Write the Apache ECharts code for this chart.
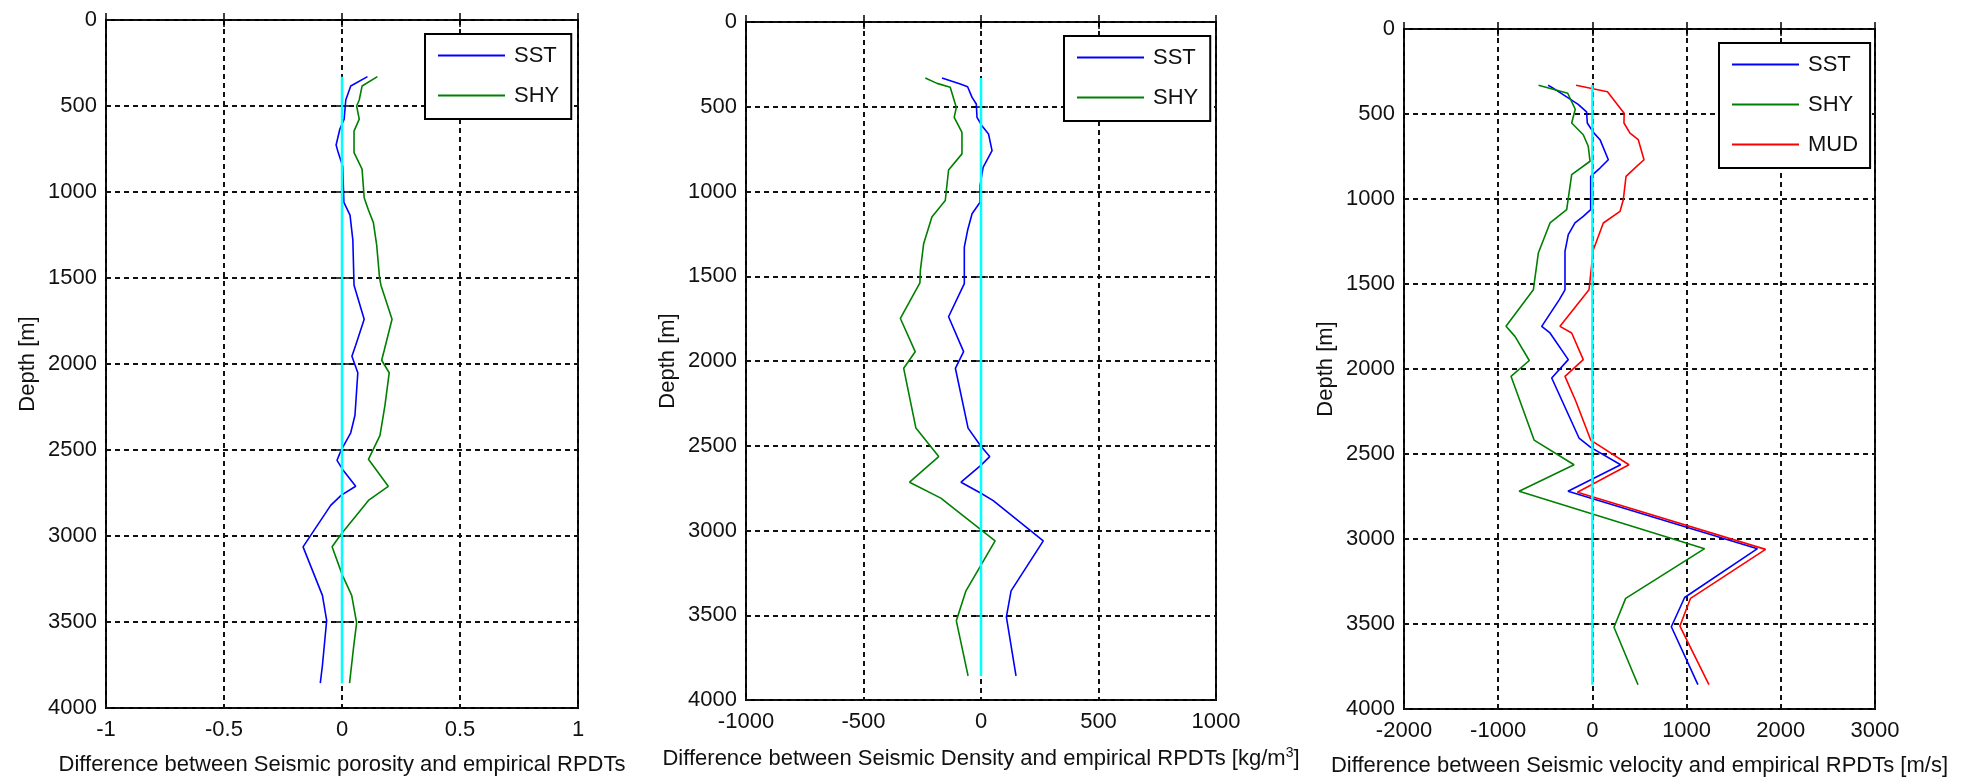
<!DOCTYPE html>
<html>
<head>
<meta charset="utf-8">
<script src="https://cdn.jsdelivr.net/npm/echarts@6/dist/echarts.min.js"></script>
<style>
  html, body { margin: 0; padding: 0; background: #fff; }
  #chart { width: 1968px; height: 784px; }
</style>
</head>
<body>
<div id="chart"></div>
<script>
// ---- Porosity difference ----
const porSSTDepth = [329, 384, 465, 576, 634, 727, 771, 850, 1060, 1134, 1280, 1542, 1740, 1891, 1955, 2051, 2298, 2400, 2502, 2560, 2618, 2711, 2764, 2822, 3063, 3345, 3491, 3753, 3855];
const porSSTValue = [0.108, 0.037, 0.016, 0.009, -0.009, -0.025, -0.016, 0.003, 0.008, 0.034, 0.046, 0.051, 0.094, 0.058, 0.042, 0.067, 0.055, 0.037, -0.004, -0.021, 0.005, 0.058, -0.004, -0.048, -0.165, -0.083, -0.065, -0.083, -0.092];
const porSHYDepth = [329, 384, 465, 500, 576, 646, 771, 867, 1033, 1105, 1178, 1309, 1498, 1542, 1740, 1920, 1978, 2051, 2240, 2415, 2554, 2711, 2793, 2990, 3063, 3229, 3345, 3505, 3636, 3855];
const porSHYValue = [0.150, 0.085, 0.073, 0.062, 0.073, 0.051, 0.051, 0.085, 0.094, 0.112, 0.133, 0.147, 0.159, 0.165, 0.212, 0.179, 0.168, 0.200, 0.182, 0.161, 0.112, 0.196, 0.112, -0.004, -0.042, 0.002, 0.041, 0.062, 0.050, 0.032];

// ---- Density difference [kg/m3] ----
const denSSTDepth = [331, 366, 382, 445, 484, 563, 612, 661, 759, 857, 965, 1063, 1131, 1229, 1328, 1543, 1739, 1945, 2043, 2396, 2500, 2564, 2617, 2715, 2780, 2824, 3061, 3356, 3510, 3858];
const denSSTValue = [-166, -88, -57, -38, -20, -17, 4, 32, 47, 9, -4, -4, -38, -57, -71, -71, -138, -74, -109, -55, -2, 37, -2, -85, 0, 52, 265, 128, 108, 149];
const denSHYDepth = [331, 362, 385, 504, 563, 651, 778, 873, 1053, 1151, 1308, 1465, 1539, 1749, 1945, 2043, 2396, 2564, 2715, 2809, 3061, 3356, 3533, 3858];
const denSHYValue = [-237, -187, -131, -105, -114, -81, -81, -138, -152, -209, -244, -258, -260, -343, -280, -329, -277, -180, -304, -171, 60, -64, -105, -55];

// ---- Velocity difference [m/s] ----
const velSSTDepth = [331, 348, 443, 487, 553, 608, 651, 769, 818, 867, 1063, 1102, 1141, 1210, 1308, 1534, 1592, 1749, 1788, 1945, 2053, 2406, 2461, 2563, 2719, 3057, 3344, 3516, 3857];
const velSSTValue = [-470, -417, -151, -62, -54, 10, 81, 169, 81, -18, -18, -97, -185, -256, -291, -291, -351, -538, -450, -256, -432, -142, -18, 300, -259, 1752, 979, 838, 1120];
const velSHYDepth = [331, 378, 472, 553, 622, 690, 778, 857, 1063, 1141, 1318, 1534, 1749, 1808, 1950, 2043, 2418, 2563, 2719, 3057, 3349, 3519, 3857];
const velSHYValue = [-572, -262, -182, -220, -97, -44, -25, -220, -273, -450, -574, -627, -917, -822, -670, -864, -619, -195, -778, 1191, 353, 229, 484];
const velMUDDepth = [331, 369, 496, 553, 612, 651, 769, 808, 867, 1004, 1073, 1141, 1298, 1534, 1749, 1788, 1945, 2043, 2188, 2418, 2563, 2725, 3061, 3349, 3512, 3857];
const velMUDValue = [-173, 160, 337, 335, 399, 487, 548, 470, 357, 328, 293, 116, 10, -36, -344, -220, -97, -291, -177, -18, 388, -159, 1838, 1042, 929, 1237];

// zero reference line over the logged interval
const zeroDepth = [330, 3858];
const zeroValue = [0, 0];

// axis ranges and ticks
const depthTicks = { min: 0, max: 4000, interval: 500 };
const porTicks = { min: -1, max: 1, interval: 0.5 };
const denTicks = { min: -1000, max: 1000, interval: 500 };
const velTicks = { min: -2000, max: 3000, interval: 1000 };

const xTitles = [
  'Difference between Seismic porosity and empirical RPDTs',
  'Difference between Seismic Density and empirical RPDTs [kg/m{sup|3}]',
  'Difference between Seismic velocity and empirical RPDTs [m/s]'
];
const depthTitle = 'Depth [m]';

const FONT = '"Liberation Sans", Arial, sans-serif';
const FS = 22;
const COLORS = { SST: '#0000ff', SHY: '#008000', MUD: '#ff0000', zero: '#00ffff' };

const grids = [
  { left: 106, top: 20, width: 472, height: 688 },
  { left: 746, top: 22, width: 470, height: 678 },
  { left: 1404, top: 29, width: 471, height: 680 }
];
const xRanges = [porTicks, denTicks, velTicks];

function pairs(vals, depths) {
  return depths.map((d, i) => [vals[i], d]);
}
const plain = v => String(v);

const chart = echarts.init(document.getElementById('chart'), null, { renderer: 'canvas' });

const gridOpts = grids.map(g => ({
  left: g.left, top: g.top, width: g.width, height: g.height,
  outerBoundsMode: 'none', containLabel: false,
  show: true, borderColor: '#000', borderWidth: 2, backgroundColor: '#fff'
}));

const splitStyle = { show: true, lineStyle: { color: '#111', width: 2, type: [5, 4] } };
const tickStyle = { show: true, inside: true, length: 7, lineStyle: { color: '#000', width: 1.5 } };

const xAxes = [];
const yAxes = [];
xRanges.forEach((r, i) => {
  xAxes.push({
    type: 'value', gridIndex: i, position: 'bottom',
    min: r.min, max: r.max, interval: r.interval,
    axisLine: { show: false },
    axisTick: tickStyle,
    splitLine: splitStyle,
    axisLabel: { color: '#111', fontSize: FS, fontFamily: FONT, margin: 11, formatter: plain },
    name: xTitles[i], nameLocation: 'middle', nameGap: 46, nameMoveOverlap: false,
    nameTextStyle: {
      color: '#111', fontSize: FS, fontFamily: FONT,
      rich: { sup: { fontSize: 14, fontFamily: FONT, color: '#111', padding: [0, 0, 12, 0] } }
    }
  });
  yAxes.push({
    type: 'value', gridIndex: i, position: 'left', inverse: true,
    min: depthTicks.min, max: depthTicks.max, interval: depthTicks.interval,
    axisLine: { show: false },
    axisTick: tickStyle,
    splitLine: splitStyle,
    axisLabel: { color: '#111', fontSize: FS, fontFamily: FONT, margin: 9, formatter: plain },
    name: depthTitle, nameLocation: 'middle', nameGap: 67, nameRotate: 90, nameMoveOverlap: false,
    nameTextStyle: { color: '#111', fontSize: FS, fontFamily: FONT }
  });
});
// tick marks on the top and right edges of each box
xRanges.forEach((r, i) => {
  xAxes.push({
    type: 'value', gridIndex: i, position: 'top',
    min: r.min, max: r.max, interval: r.interval,
    axisLine: { show: false }, splitLine: { show: false }, axisLabel: { show: false },
    axisTick: tickStyle
  });
  yAxes.push({
    type: 'value', gridIndex: i, position: 'right', inverse: true,
    min: depthTicks.min, max: depthTicks.max, interval: depthTicks.interval,
    axisLine: { show: false }, splitLine: { show: false }, axisLabel: { show: false },
    axisTick: tickStyle
  });
});

function line(name, vals, depths, idx, color, width, z) {
  return {
    type: 'line', name: name, xAxisIndex: idx, yAxisIndex: idx,
    data: pairs(vals, depths), showSymbol: false, symbol: 'none',
    lineStyle: { color: color, width: width }, itemStyle: { color: color },
    z: z, silent: true
  };
}

const series = [
  line('SST', porSSTValue, porSSTDepth, 0, COLORS.SST, 1.6, 2),
  line('SHY', porSHYValue, porSHYDepth, 0, COLORS.SHY, 1.6, 2),
  line('zero', zeroValue, zeroDepth, 0, COLORS.zero, 2.5, 3),
  line('SST', denSSTValue, denSSTDepth, 1, COLORS.SST, 1.6, 2),
  line('SHY', denSHYValue, denSHYDepth, 1, COLORS.SHY, 1.6, 2),
  line('zero', zeroValue, zeroDepth, 1, COLORS.zero, 2.5, 3),
  line('SST', velSSTValue, velSSTDepth, 2, COLORS.SST, 1.6, 2),
  line('SHY', velSHYValue, velSHYDepth, 2, COLORS.SHY, 1.6, 2),
  line('MUD', velMUDValue, velMUDDepth, 2, COLORS.MUD, 1.6, 2),
  line('zero', zeroValue, zeroDepth, 2, COLORS.zero, 2.5, 3)
];

function legend(left, top, names) {
  return {
    left: left, top: top, orient: 'vertical',
    data: names, icon: 'rect', itemWidth: 67, itemHeight: 2, itemGap: 15,
    backgroundColor: '#fff', borderColor: '#000', borderWidth: 2, borderRadius: 0,
    padding: [9, 12, 11, 13], selectedMode: false,
    textStyle: { color: '#111', fontSize: FS, fontFamily: FONT, lineHeight: 25, padding: [0, 0, 0, 4] }
  };
}

chart.setOption({
  animation: false,
  backgroundColor: '#fff',
  grid: gridOpts,
  xAxis: xAxes,
  yAxis: yAxes,
  legend: [
    legend(425, 34, ['SST', 'SHY']),
    legend(1064, 36, ['SST', 'SHY']),
    legend(1719, 43, ['SST', 'SHY', 'MUD'])
  ],
  series: series
});
</script>
</body>
</html>
